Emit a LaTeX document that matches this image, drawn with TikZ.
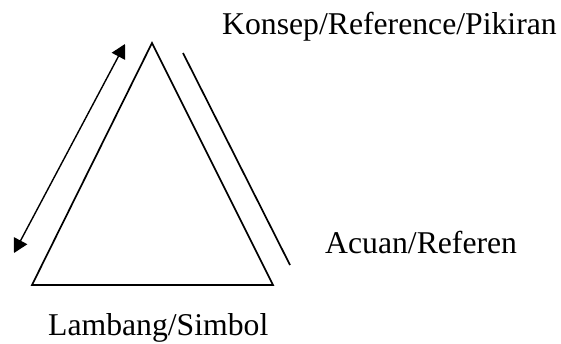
\documentclass[tikz,border=0pt]{standalone}
\usepackage{fontspec}
\setmainfont{Liberation Serif}
\usetikzlibrary{arrows.meta}
\begin{document}
\begin{tikzpicture}[x=1pt,y=-1pt,
  lbl/.style={anchor=base west,inner sep=0pt,font=\fontsize{31.7}{38}\selectfont},
  edge/.style={line width=1.7pt,line join=miter},
  dbl/.style={line width=1.4pt,{Triangle[length=14pt,width=15pt]}-{Triangle[length=14pt,width=15pt]}}]
\useasboundingbox (0,0) rectangle (561,343);
\coordinate (apex) at (152,43);
\coordinate (bl) at (32,285);
\coordinate (br) at (273,285);
\coordinate (a1) at (14,253);
\coordinate (a2) at (125,44);
\coordinate (r1) at (183,53);
\coordinate (r2) at (290,265);
\draw[edge] (apex) -- (bl) -- (br) -- cycle;
\draw[dbl] (a1) -- (a2);
\draw[edge] (r1) -- (r2);
\node[lbl] (konsep) at (222,34) {Konsep/Reference/Pikiran};
\node[lbl] (acuan) at (325,253) {Acuan/Referen};
\node[lbl] (lambang) at (48,335) {Lambang/Simbol};
\end{tikzpicture}
\end{document}
